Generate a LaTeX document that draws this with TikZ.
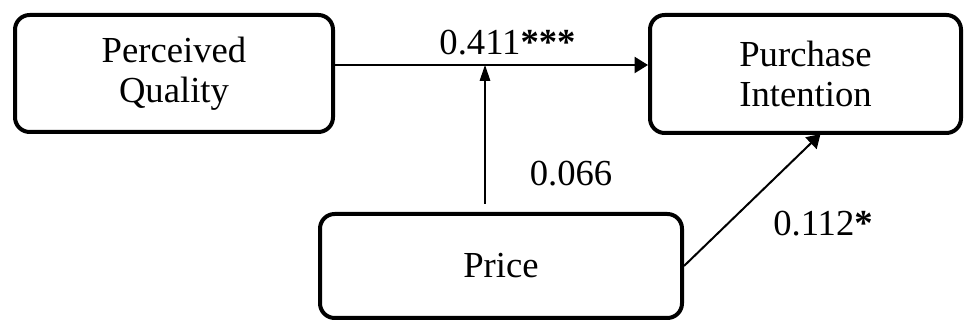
\documentclass[tikz,border=0pt]{standalone}
\usepackage{fontspec}
\setmainfont{Liberation Serif}
\usepackage{tikz}
\usetikzlibrary{positioning, arrows.meta, calc}

\begin{document}
\begin{tikzpicture}[
  x=0.75pt, y=-0.75pt,
  box/.style={draw, line width=3pt, rounded corners=11pt, align=center,
              font=\fontsize{27.5}{30}\selectfont, inner sep=0pt},
  lbl/.style={font=\fontsize{27.5}{30}\selectfont, inner sep=0pt, anchor=base},
  path/.style={line width=1.5pt, -{Triangle[length=10pt, width=12pt]}},
  thin path/.style={line width=0.8pt, -{Triangle[length=12pt, width=8pt]}},
]
  \useasboundingbox (0,0) rectangle (965,323);
  % constructs
  \node[box, minimum width=238.5pt, minimum height=87.75pt] (qual) at (174,73.5)
    {Perceived\\Quality};
  \node[box, minimum width=233.25pt, minimum height=88.5pt] (intent) at (805.5,74)
    {Purchase\\Intention};
  \node[box, minimum width=271.5pt, minimum height=78pt] (price) at (501,266)
    {Price};
  \coordinate (mod) at (485,65);
  % paths
  \draw[path] (qual.east |- mod) -- (intent.west |- mod);
  \draw[thin path] ([yshift=6pt]price.north -| mod) -- (mod);
  \draw[path] (price.east) -- ($(intent.south)+(15,-1)$);
  % coefficients
  \node[lbl] (bqual) at (507.5,55) {0.411\textbf{***}};
  \node[lbl] (bmod) at (571,186) {0.066};
  \node[lbl] (bprice) at (823,236) {0.112\textbf{*}};
\end{tikzpicture}
\end{document}
